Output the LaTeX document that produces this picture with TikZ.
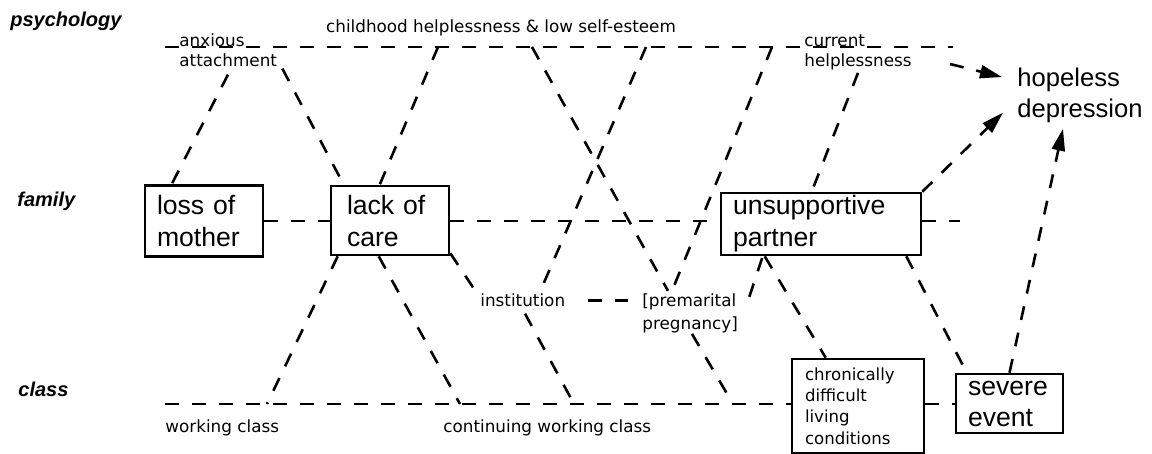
\documentclass[tikz,border=0pt]{standalone}
\usepackage{fontspec}
\setmainfont{Liberation Sans}
\newfontfamily\genevafont{DejaVu Sans}
\usetikzlibrary{arrows.meta,calc}
\begin{document}
\begin{tikzpicture}[x=0.5pt,y=-0.5pt,
  dl/.style={line width=1.3pt, dash pattern=on 7pt off 6.5pt},
  box/.style={draw, line width=1.3pt, inner ysep=0pt, align=left,
    font=\fontsize{13.3pt}{16pt}\selectfont},
  small/.style={inner sep=0pt, align=left, anchor=base west,
    font=\genevafont\fontsize{8.4pt}{10pt}\selectfont},
  cat/.style={inner sep=0pt, anchor=base west,
    font=\bfseries\itshape\fontsize{10pt}{12pt}\selectfont},
  arr/.style={dl, -{Triangle[length=11pt,width=6.5pt]}},
]
\useasboundingbox (0,0) rectangle (1152,454);

% category labels
\node[cat] (lpsy) at (10,27) {psychology};
\node[cat] (lfam) at (17,207) {family};
\node[cat] (lcls) at (18,397) {class};

% boxes
\node[box, text width=47pt, inner xsep=6pt, minimum height=35.5pt] (lom) at (204,221) {loss of\\mother};
\node[box, text width=43pt, inner xsep=8pt, minimum height=34.5pt] (loc) at (390,220.5) {lack of\\care};
\node[box, text width=88pt, inner xsep=6pt, minimum height=31pt] (usp) at (821,224) {unsupportive\\partner};
\node[box, text width=53pt, inner xsep=6.5pt, minimum height=47pt,
  font=\genevafont\fontsize{8.3pt}{10.65pt}\selectfont] (cdl) at (858,406) {chronically\\difficult\\living\\conditions};
\node[box, text width=41.5pt, inner xsep=6pt, minimum height=29.5pt,
  font=\fontsize{13.3pt}{15.5pt}\selectfont] (sev) at (1009.5,403.5) {severe\\event};

% text labels (multi-line: base = last line)
\node[small, anchor=base] (che) at (501,33) {childhood helplessness \& low self-esteem};
\node[small] (aa) at (179,67) {anxious\\attachment};
\node[small] (ch) at (804,67) {current\\helplessness};
\node[inner sep=0pt, align=left, anchor=base west,
  font=\fontsize{12.8pt}{15.5pt}\selectfont] (hd) at (1017,118) {hopeless\\depression};
\node[small] (inst) at (480,307) {institution};
\node[small, font=\genevafont\fontsize{8.4pt}{11.5pt}\selectfont] (pp) at (642,330) {[premarital\\pregnancy]};
\node[small] (wc) at (165,432) {working class};
\node[small] (cwc) at (443,432) {continuing working class};

% coordinates on the level lines
\coordinate (psyL) at (165,47);
\coordinate (psyR) at (953,47);
\coordinate (famR) at (960,221);
\coordinate (clsL) at (165,404);
\coordinate (p3) at (438,47);
\coordinate (p4) at (532,47);
\coordinate (p5) at (646,47);
\coordinate (p6) at (772,47);
\coordinate (c11) at (267,404);
\coordinate (c12) at (460,404);
\coordinate (c13) at (574,404);
\coordinate (c14) at (733,404);
\coordinate (a1s) at (950,64);

% level lines
\draw[dl] (psyL) -- (psyR);
\draw[dl] (lom.east |- famR) -- (loc.west |- famR);
\draw[dl] (loc.east |- famR) -- (usp.west |- famR);
\draw[dl] (usp.east |- famR) -- (famR);
\draw[dl] (clsL) -- (cdl.west |- clsL);
\draw[dl] (cdl.east |- clsL) -- (sev.west |- clsL);

% diagonal links
\draw[dl] ($(aa.south west)+(49,7)$) -- ($(lom.north west)+(28,0)$);
\draw[dl] ($(aa.south east)+(5,1)$) -- ($(loc.north west)+(14,0)$);
\draw[dl] (p3) -- ($(loc.north west)+(50,0)$);
\draw[dl] (p4) -- ($(pp.north west)+(26,-3)$);
\draw[dl] (p5) -- ($(inst.north west)+(60,-2)$);
\draw[dl] (p6) -- ($(pp.north west)+(30,-3)$);
\draw[dl] ($(ch.south west)+(54,2)$) -- ($(usp.north west)+(92,0)$);
\draw[dl] ($(loc.south west)+(8,0)$) -- (c11);
\draw[dl] ($(loc.south west)+(49,0)$) -- (c12);
\draw[dl] ($(loc.south east)+(0,-3)$) -- ($(inst.north west)+(-4,-2)$);
\draw[dl] ($(inst.south west)+(45,6)$) -- (c13);
\draw[dl] ($(pp.south west)+(50,0)$) -- (c14);
\draw[dl, shorten <=11pt, shorten >=7pt] (inst.east) -- (inst.east -| pp.west);
\draw[dl] ($(pp.north east)+(11,3)$) -- ($(usp.south west)+(43,0)$);
\draw[dl] ($(usp.south west)+(45,0)$) -- ($(cdl.north west)+(35,0)$);
\draw[dl] ($(usp.south east)+(-16,0)$) -- ($(sev.north west)+(12,0)$);

% arrows to hopeless depression
\draw[arr] (a1s) -- ($(hd.north west)+(-15,9)$);
\draw[arr] (usp.north east) -- ($(hd.south west)+(-14,-11)$);
\draw[arr] (sev.north) -- ($(hd.south west)+(46,5)$);
\end{tikzpicture}
\end{document}
